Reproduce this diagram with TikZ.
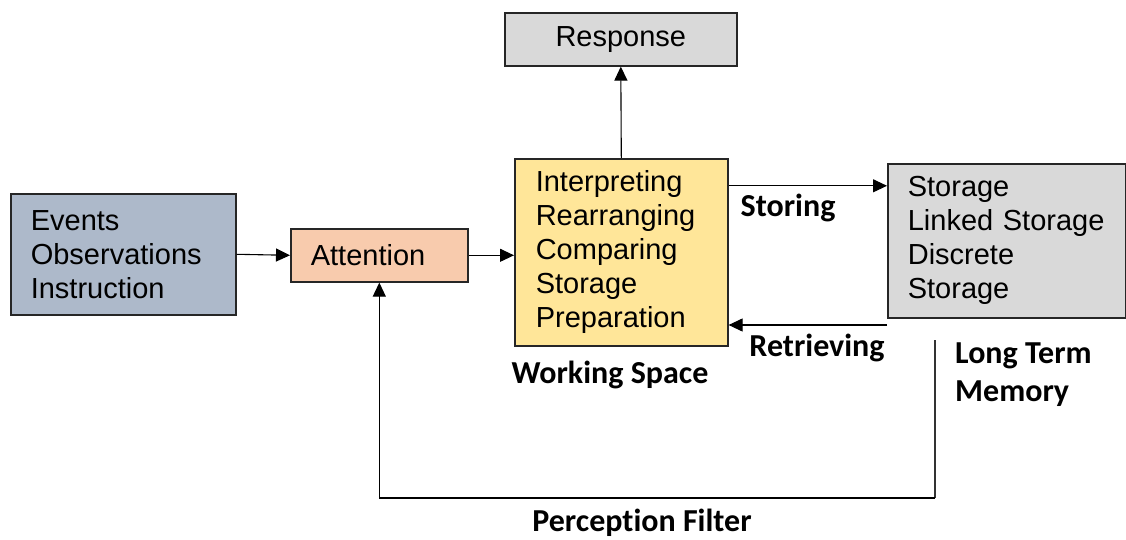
\documentclass[tikz,border=0pt]{standalone}
\usepackage{fontspec}
\setmainfont{Liberation Sans}
\newfontfamily\labelfont[Ligatures=NoCommon]{Carlito}
\usetikzlibrary{arrows.meta,calc}
\definecolor{evblue}{HTML}{ADB9CA}
\definecolor{attpeach}{HTML}{F8CBAD}
\definecolor{wsyellow}{HTML}{FFE699}
\definecolor{boxgray}{HTML}{D9D9D9}
\tikzset{
  box/.style={draw=black!85, line width=1.6pt, rectangle, anchor=north west,
    inner sep=0pt, font=\fontsize{29}{34}\selectfont},
  listbox/.style={box, align=left, inner xsep=20pt},
  arr/.style={draw=black, line width=1.1pt, -{Triangle[length=14pt,width=13pt]}},
  plain/.style={draw=black!80, line width=1.1pt},
  lbl/.style={font=\labelfont\bfseries\fontsize{32}{38}\selectfont, inner sep=0pt},
}
\begin{document}
\begin{tikzpicture}[x=1pt,y=-1pt]
\useasboundingbox (0,0) rectangle (1126,540);

% boxes
\node[listbox, fill=evblue, minimum width=225pt, minimum height=121pt,
      text width=185pt] (evt) at (10,193) {Events\\Observations\\Instruction};
\node[listbox, fill=attpeach, minimum width=177pt, minimum height=53pt,
      text width=137pt] (att) at (290,228) {Attention};
\node[listbox, fill=wsyellow, minimum width=212pt, minimum height=187pt,
      text width=171pt, inner xsep=21pt] (ws) at (514,158)
      {Interpreting\\Rearranging\\Comparing\\Storage\\Preparation};
\node[box, fill=boxgray, minimum width=232pt, minimum height=53pt] (resp) at (504,12) {Response};
\node[listbox, fill=boxgray, minimum width=238pt, minimum height=154pt,
      text width=198pt] (ltm) at (887,163) {Storage\\Linked Storage\\Discrete\\Storage};

% connectors
\draw[arr] (evt.east) -- (att.west);
\draw[arr] (att.east) -- (att.east -| ws.west);
\draw[arr] (ws.north) -- (resp.south);
\draw[arr] ([yshift=66.5pt]ws.east) -- ([yshift=66.5pt]ws.east -| ltm.west);
\draw[arr] (ltm.west |- {(0,325)}) -- (ws.east |- {(0,325)});
\coordinate (fbtop) at (935,340);
\coordinate (fbcorner) at (935,498);
\draw[plain] (fbtop) -- (fbcorner);
\draw[arr] (fbcorner) -| (att.south);

% labels
\node[lbl] (lstoring) at (788,208) {Storing};
\node[lbl] (lretr) at (817,348) {Retrieving};
\node[lbl] (lws) at (610,375) {Working Space};
\node[lbl, anchor=west, align=left] (lltm) at (955,375) {Long Term\\Memory};
\node[lbl] (lpf) at (642,523) {Perception Filter};
\end{tikzpicture}
\end{document}
